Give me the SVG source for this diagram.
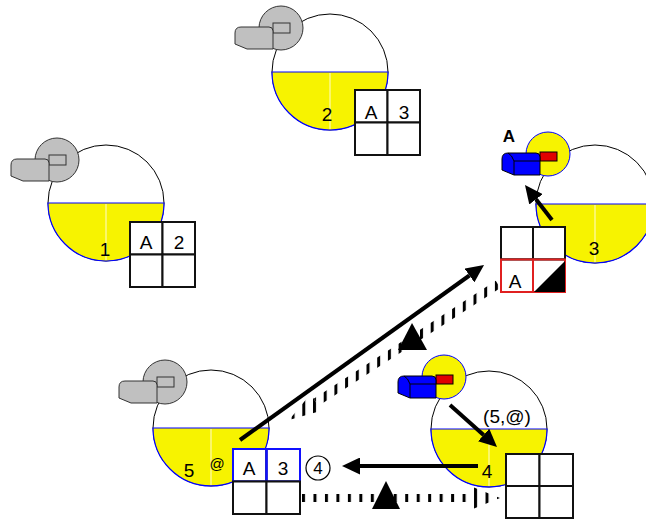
<svg xmlns="http://www.w3.org/2000/svg" xmlns:xlink="http://www.w3.org/1999/xlink" width="646" height="521" viewBox="0 0 646 521">
  <style>
    .big { fill: #ffffff; stroke: #000000; stroke-width: 1; }
    .half { fill: #f7f300; stroke: #0000ff; stroke-width: 1.2; }
    .mid { stroke: #fffbd0; stroke-width: 1; }
    .lbl { font-family: "Liberation Sans", Arial, sans-serif; font-size: 19px; text-anchor: middle; fill: #000000; }
    .cell { fill: #ffffff; stroke: #111111; stroke-width: 2; }
    .cell-red { fill: none; stroke: #e02020; stroke-width: 2; }
    .cell-blue { fill: none; stroke: #1010ff; stroke-width: 2; }
    .gray { fill: #c0c0c0; stroke: #333333; stroke-width: 1; }
    .gray-rect { fill: none; stroke: #333333; stroke-width: 1; }
    .yel { fill: #f7f300; stroke: #0000ff; stroke-width: 1; }
    .box { fill: #0000ff; stroke: #000000; stroke-width: 1; }
    .box-edge { fill: none; stroke: #000000; stroke-width: 1; }
    .red-rect { fill: #e00000; stroke: #000000; stroke-width: 1; }
    .arrow { fill: none; stroke: #000000; stroke-width: 4; marker-end: url(#head); }
    .solid { fill: #000000; }
  </style>
  <defs>
    <marker id="head" viewBox="0 0 18 17" refX="0" refY="8.5" markerWidth="18" markerHeight="17" markerUnits="userSpaceOnUse" orient="auto">
      <path d="M0,0 L18,8.5 L0,17 Z" fill="#000000"/>
    </marker>
    <!-- camera body outline, origin at top-left -->
    <path id="body" d="M0,17 V6 Q0,0 6,0 H34 Q38,0 38,4 V22 H12 Z"/>
    <!-- grey camera, origin at lens centre -->
    <g id="cam-gray">
      <circle r="22" class="gray"/>
      <rect x="-8" y="-5" width="17" height="10" class="gray-rect"/>
      <use xlink:href="#body" x="-46" y="-1" class="gray"/>
    </g>
    <!-- coloured camera, origin at lens centre -->
    <g id="cam-color">
      <circle r="22" class="yel"/>
      <rect x="-8" y="-2" width="17" height="9" class="red-rect"/>
      <g transform="translate(-46,-1)">
        <use xlink:href="#body" class="box"/>
        <path d="M12,22 V8 H38 M12,8 Q10,2 6,0" class="box-edge"/>
      </g>
    </g>
    <!-- stripe masks for the broken arrows -->
    <pattern id="stripes-h" patternUnits="userSpaceOnUse" x="302" y="0" width="11.47" height="521">
      <rect width="3" height="521" fill="#ffffff"/>
    </pattern>
    <pattern id="stripes-d" patternUnits="userSpaceOnUse" x="313" y="0" width="10.7" height="521">
      <rect width="3" height="521" fill="#ffffff"/>
    </pattern>
    <mask id="dash-h" maskUnits="userSpaceOnUse" x="0" y="0" width="646" height="521">
      <rect width="646" height="521" fill="url(#stripes-h)"/>
    </mask>
    <mask id="dash-d" maskUnits="userSpaceOnUse" x="0" y="0" width="646" height="521">
      <rect width="646" height="521" fill="url(#stripes-d)"/>
    </mask>
  </defs>

  <!-- node 1 -->
  <g id="node1">
    <circle cx="106" cy="203" r="58" class="big"/>
    <path d="M48,203 A58,58 0 0 0 164,203 Z" class="half"/>
    <line x1="106" y1="204" x2="106" y2="260" class="mid"/>
    <text x="105" y="256" class="lbl">1</text>
    <use xlink:href="#cam-gray" x="57" y="160"/>
    <rect x="130" y="222" width="32.5" height="32.5" class="cell"/>
    <rect x="162.5" y="222" width="32.5" height="32.5" class="cell"/>
    <rect x="130" y="254.5" width="32.5" height="32.5" class="cell"/>
    <rect x="162.5" y="254.5" width="32.5" height="32.5" class="cell"/>
    <text x="146" y="249" class="lbl">A</text>
    <text x="179" y="249" class="lbl">2</text>
  </g>

  <!-- node 2 -->
  <g id="node2">
    <circle cx="330" cy="72" r="58" class="big"/>
    <path d="M272,72 A58,58 0 0 0 388,72 Z" class="half"/>
    <line x1="330" y1="73" x2="330" y2="129" class="mid"/>
    <text x="327" y="121" class="lbl">2</text>
    <use xlink:href="#cam-gray" x="281" y="28"/>
    <rect x="355" y="90" width="32.5" height="32.5" class="cell"/>
    <rect x="387.5" y="90" width="32.5" height="32.5" class="cell"/>
    <rect x="355" y="122.5" width="32.5" height="32.5" class="cell"/>
    <rect x="387.5" y="122.5" width="32.5" height="32.5" class="cell"/>
    <text x="371" y="119" class="lbl">A</text>
    <text x="404" y="119" class="lbl">3</text>
  </g>

  <!-- node 3 -->
  <g id="node3">
    <circle cx="595" cy="204" r="59" class="big"/>
    <path d="M536,204 A59,59 0 0 0 654,204 Z" class="half"/>
    <line x1="595" y1="205" x2="595" y2="262" class="mid"/>
    <text x="594" y="255" class="lbl">3</text>
    <use xlink:href="#cam-color" x="548" y="154"/>
    <text x="509" y="142" class="lbl" style="font-weight:bold;font-size:17px">A</text>
    <rect x="501" y="227" width="32" height="32.5" class="cell"/>
    <rect x="533" y="227" width="32" height="32.5" class="cell"/>
    <rect x="501" y="259.5" width="32" height="32.5" class="cell"/>
    <rect x="533" y="259.5" width="32" height="32.5" class="cell"/>
    <rect x="501" y="259.5" width="32" height="32.5" class="cell-red"/>
    <rect x="533" y="259.5" width="32" height="32.5" class="cell-red"/>
    <polygon points="534,292 565,261 565,292" class="solid"/>
    <text x="515" y="288" class="lbl">A</text>
  </g>

  <!-- node 4 -->
  <g id="node4">
    <circle cx="489" cy="429" r="58" class="big"/>
    <path d="M431,429 A58,58 0 0 0 547,429 Z" class="half"/>
    <line x1="489" y1="430" x2="489" y2="486" class="mid"/>
    <text x="487" y="478" class="lbl">4</text>
    <text x="507" y="423" class="lbl">(5,@)</text>
    <use xlink:href="#cam-color" x="444" y="377"/>
    <rect x="506" y="454" width="33.5" height="32" class="cell"/>
    <rect x="539.5" y="454" width="33.5" height="32" class="cell"/>
    <rect x="506" y="486" width="33.5" height="32" class="cell"/>
    <rect x="539.5" y="486" width="33.5" height="32" class="cell"/>
  </g>

  <!-- node 5 -->
  <g id="node5">
    <circle cx="211" cy="428" r="58" class="big"/>
    <path d="M153,428 A58,58 0 0 0 269,428 Z" class="half"/>
    <line x1="211" y1="429" x2="211" y2="485" class="mid"/>
    <text x="189" y="477" class="lbl">5</text>
    <text x="217" y="469" class="lbl" style="font-size:15px">@</text>
    <use xlink:href="#cam-gray" x="165" y="382"/>
    <rect x="233" y="449" width="33.5" height="32.5" class="cell"/>
    <rect x="266.5" y="449" width="33.5" height="32.5" class="cell"/>
    <rect x="233" y="449" width="33.5" height="32.5" class="cell-blue"/>
    <rect x="266.5" y="449" width="33.5" height="32.5" class="cell-blue"/>
    <rect x="233" y="481.5" width="33.5" height="32.5" class="cell"/>
    <rect x="266.5" y="481.5" width="33.5" height="32.5" class="cell"/>
    <text x="249" y="475" class="lbl">A</text>
    <text x="283" y="475" class="lbl">3</text>
  </g>

  <!-- circled step number -->
  <g id="step4">
    <circle cx="318" cy="468" r="12" fill="#ffffff" stroke="#000000" stroke-width="1.2"/>
    <text x="318" y="474" class="lbl" style="font-size:17px">4</text>
  </g>

  <!-- connectors -->
  <g id="connectors">
    <line x1="240" y1="440" x2="469.4" y2="275.5" class="arrow"/>
    <line x1="552" y1="220" x2="536" y2="199.3" class="arrow"/>
    <line x1="450" y1="405" x2="483.6" y2="435" class="arrow"/>
    <line x1="478" y1="466" x2="360" y2="466" class="arrow"/>

    <g mask="url(#dash-d)">
      <line x1="498" y1="284.4" x2="316" y2="402.4" stroke="#000000" stroke-width="8.5"/>
      <polygon points="310.6,394 321.4,410.8 289,419.9" fill="#000000"/>
    </g>
    <polygon points="412,323 398,350 427,350" class="solid"/>

    <g mask="url(#dash-h)">
      <line x1="302" y1="498" x2="476" y2="498" stroke="#000000" stroke-width="8"/>
      <polygon points="474,487.5 500,498 474,508.5" fill="#000000"/>
    </g>
    <polygon points="386,481 372,509 400,509" class="solid"/>
  </g>
</svg>
